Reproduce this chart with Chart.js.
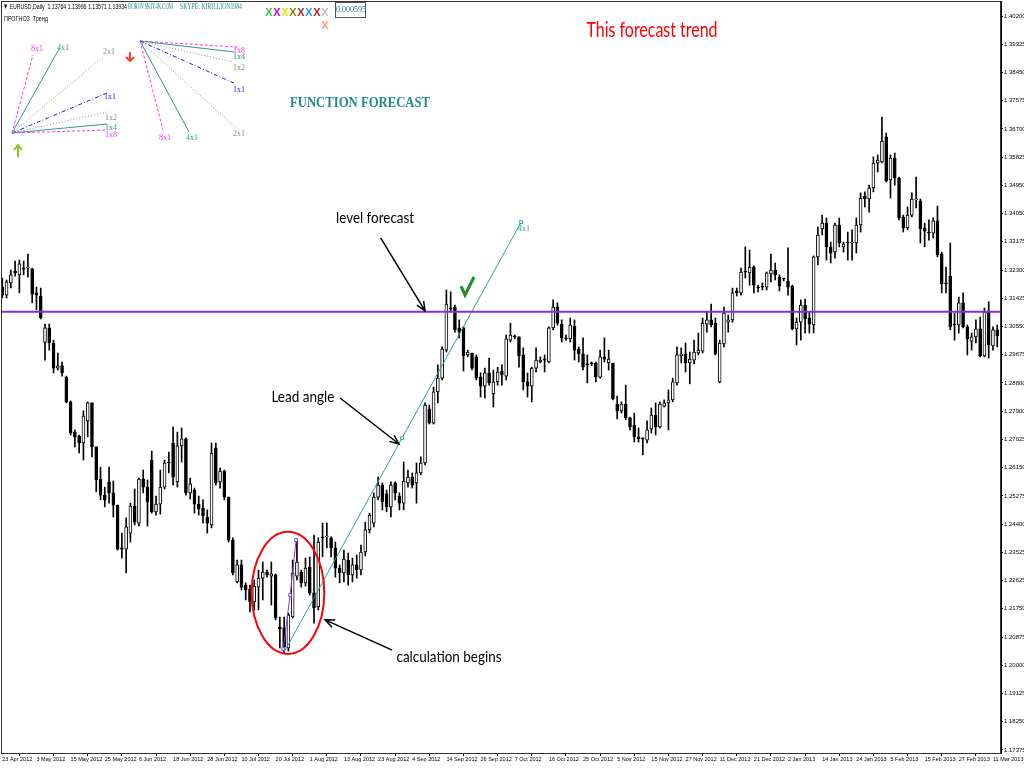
<!DOCTYPE html>
<html>
<head>
<meta charset="utf-8">
<script src="https://cdn.jsdelivr.net/npm/chart.js@4.4.1/dist/chart.umd.min.js"></script>
<style>
  html, body { margin: 0; padding: 0; background: #fff; }
  #wrap { width: 1024px; height: 768px; position: relative; }
</style>
</head>
<body>
<div id="wrap"><canvas id="grafico"></canvas></div>
<script>
// EURUSD Daily, 23 Apr 2012 - 13 Mar 2013
const openP = [1.3177,1.3152,1.3190,1.3227,1.3215,1.3236,1.3236,1.3233,1.3159,1.3149,
  1.3006,1.3050,1.3003,1.2925,1.2932,1.2897,1.2820,1.2726,1.2714,1.2692,
  1.2761,1.2817,1.2680,1.2580,1.2530,1.2571,1.2537,1.2499,1.2366,1.2362,
  1.2412,1.2496,1.2443,1.2580,1.2555,1.2639,1.2478,1.2502,1.2555,1.2633,
  1.2692,1.2571,1.2683,1.2705,1.2537,1.2546,1.2502,1.2490,1.2462,1.2437,
  1.2677,1.2571,1.2605,1.2524,1.2390,1.2260,1.2313,1.2250,1.2238,1.2198,
  1.2244,1.2272,1.2291,1.2278,1.2282,1.2120,1.2117,1.2055,1.2151,1.2278,
  1.2291,1.2257,1.2306,1.2226,1.2182,1.2400,1.2400,1.2397,1.2366,1.2303,
  1.2288,1.2328,1.2282,1.2313,1.2297,1.2353,1.2422,1.2443,1.2524,1.2561,
  1.2534,1.2493,1.2568,1.2527,1.2505,1.2568,1.2586,1.2568,1.2599,1.2630,
  1.2798,1.2754,1.2851,1.2894,1.2981,1.3112,1.3115,1.3050,1.3050,1.2966,
  1.2972,1.2960,1.2897,1.2869,1.2910,1.2845,1.2882,1.2916,1.2900,1.3012,
  1.3022,1.3022,1.2966,1.2882,1.2869,1.2925,1.2944,1.2950,1.2944,1.3050,
  1.3115,1.3062,1.3019,1.3016,1.3056,1.2984,1.2969,1.2935,1.2938,1.2941,
  1.2897,1.2960,1.2941,1.2941,1.2813,1.2792,1.2813,1.2770,1.2748,1.2711,
  1.2705,1.2701,1.2736,1.2779,1.2742,1.2807,1.2817,1.2826,1.2879,1.2963,
  1.2969,1.2941,1.2950,1.2972,1.2978,1.3062,1.3075,1.3065,1.2882,1.3000,
  1.3068,1.3075,1.3165,1.3159,1.3224,1.3221,1.3239,1.3177,1.3177,1.3177,
  1.3218,1.3230,1.3208,1.3202,1.3196,1.3180,1.3047,1.3068,1.3121,1.3081,
  1.3059,1.3271,1.3358,1.3376,1.3302,1.3286,1.3370,1.3302,1.3317,1.3314,
  1.3314,1.3370,1.3460,1.3451,1.3485,1.3563,1.3566,1.3644,1.3510,1.3578,
  1.3516,1.3395,1.3361,1.3401,1.3448,1.3445,1.3361,1.3348,1.3345,1.3383,
  1.3280,1.3190,1.3211,1.3059,1.3059,1.3128,1.3053,1.3009,1.3022,1.3047,
  1.2963,1.3100,1.2994,1.3044];
const highP = [1.3205,1.3199,1.3230,1.3258,1.3261,1.3258,1.3280,1.3236,1.3177,1.3174,
  1.3062,1.3062,1.3012,1.2972,1.2944,1.2900,1.2823,1.2733,1.2717,1.2792,
  1.2820,1.2817,1.2680,1.2617,1.2555,1.2617,1.2574,1.2499,1.2412,1.2459,
  1.2505,1.2549,1.2583,1.2608,1.2577,1.2667,1.2527,1.2608,1.2639,1.2664,
  1.2742,1.2726,1.2739,1.2708,1.2583,1.2552,1.2527,1.2515,1.2484,1.2692,
  1.2692,1.2614,1.2608,1.2524,1.2397,1.2328,1.2328,1.2257,1.2250,1.2266,
  1.2297,1.2322,1.2297,1.2322,1.2285,1.2151,1.2151,1.2163,1.2328,1.2390,
  1.2297,1.2334,1.2338,1.2406,1.2397,1.2443,1.2443,1.2400,1.2384,1.2313,
  1.2359,1.2350,1.2334,1.2344,1.2375,1.2446,1.2474,1.2537,1.2586,1.2568,
  1.2546,1.2571,1.2571,1.2537,1.2633,1.2608,1.2599,1.2630,1.2649,1.2817,
  1.2810,1.2866,1.2935,1.2991,1.3168,1.3162,1.3121,1.3075,1.3053,1.2981,
  1.2972,1.2966,1.2910,1.2925,1.2956,1.2919,1.2928,1.2935,1.3028,1.3065,
  1.3028,1.3022,1.2988,1.2910,1.2928,1.2988,1.2960,1.2966,1.3053,1.3137,
  1.3128,1.3075,1.3028,1.3081,1.3075,1.2991,1.3019,1.2966,1.2944,1.2944,
  1.2981,1.3019,1.2981,1.2941,1.2838,1.2820,1.2872,1.2773,1.2785,1.2739,
  1.2708,1.2761,1.2801,1.2817,1.2820,1.2826,1.2857,1.2894,1.2991,1.2988,
  1.3003,1.2975,1.3012,1.3034,1.3081,1.3100,1.3124,1.3081,1.3012,1.3115,
  1.3090,1.3174,1.3174,1.3236,1.3302,1.3292,1.3243,1.3183,1.3190,1.3224,
  1.3280,1.3252,1.3215,1.3205,1.3299,1.3183,1.3081,1.3137,1.3140,1.3100,
  1.3274,1.3364,1.3401,1.3392,1.3317,1.3376,1.3392,1.3317,1.3348,1.3355,
  1.3392,1.3470,1.3473,1.3494,1.3582,1.3588,1.3706,1.3656,1.3588,1.3594,
  1.3519,1.3401,1.3426,1.3470,1.3519,1.3451,1.3376,1.3386,1.3392,1.3429,
  1.3286,1.3239,1.3314,1.3096,1.3146,1.3159,1.3059,1.3034,1.3075,1.3084,
  1.3112,1.3131,1.3053,1.3059];
const lowP = [1.3143,1.3143,1.3174,1.3211,1.3159,1.3215,1.3208,1.3128,1.3106,1.3078,
  1.2950,1.2981,1.2910,1.2919,1.2900,1.2817,1.2717,1.2680,1.2661,1.2639,
  1.2711,1.2649,1.2540,1.2515,1.2493,1.2505,1.2462,1.2359,1.2334,1.2288,
  1.2384,1.2437,1.2434,1.2537,1.2434,1.2474,1.2468,1.2471,1.2549,1.2599,
  1.2561,1.2555,1.2633,1.2530,1.2518,1.2474,1.2468,1.2443,1.2412,1.2428,
  1.2561,1.2552,1.2515,1.2384,1.2282,1.2257,1.2235,1.2204,1.2167,1.2173,
  1.2173,1.2204,1.2275,1.2188,1.2142,1.2055,1.2039,1.2045,1.2148,1.2266,
  1.2244,1.2247,1.2219,1.2132,1.2173,1.2338,1.2366,1.2338,1.2275,1.2257,
  1.2260,1.2250,1.2260,1.2272,1.2282,1.2341,1.2412,1.2431,1.2515,1.2484,
  1.2478,1.2462,1.2515,1.2484,1.2484,1.2555,1.2552,1.2505,1.2593,1.2624,
  1.2751,1.2751,1.2817,1.2888,1.2975,1.3100,1.3037,1.3019,1.2916,1.2960,
  1.2919,1.2888,1.2835,1.2832,1.2872,1.2804,1.2872,1.2872,1.2888,1.3006,
  1.3016,1.2928,1.2857,1.2835,1.2820,1.2913,1.2941,1.2913,1.2941,1.3044,
  1.3059,1.3006,1.3012,1.3006,1.2950,1.2944,1.2919,1.2879,1.2932,1.2882,
  1.2894,1.2944,1.2919,1.2826,1.2767,1.2785,1.2764,1.2733,1.2695,1.2695,
  1.2655,1.2692,1.2723,1.2717,1.2739,1.2804,1.2733,1.2820,1.2872,1.2941,
  1.2913,1.2876,1.2938,1.2966,1.2972,1.3037,1.3053,1.2966,1.2879,1.2991,
  1.3037,1.3068,1.3149,1.3152,1.3205,1.3183,1.3159,1.3162,1.3168,1.3168,
  1.3193,1.3199,1.3165,1.3196,1.3152,1.3044,1.2997,1.3012,1.3034,1.3034,
  1.3034,1.3246,1.3339,1.3261,1.3252,1.3267,1.3302,1.3286,1.3261,1.3261,
  1.3283,1.3348,1.3426,1.3410,1.3473,1.3535,1.3563,1.3504,1.3454,1.3494,
  1.3386,1.3348,1.3355,1.3395,1.3423,1.3314,1.3302,1.3323,1.3330,1.3271,
  1.3159,1.3159,1.3044,1.3012,1.3034,1.3050,1.2966,1.2981,1.3003,1.2960,
  1.2960,1.2956,1.2981,1.2991];
const closeP = [1.3152,1.3193,1.3215,1.3221,1.3249,1.3233,1.3239,1.3155,1.3152,1.3081,
  1.3050,1.3003,1.2925,1.2932,1.2910,1.2820,1.2723,1.2711,1.2692,1.2776,
  1.2817,1.2680,1.2577,1.2530,1.2515,1.2537,1.2499,1.2362,1.2362,1.2431,
  1.2496,1.2446,1.2580,1.2555,1.2509,1.2478,1.2502,1.2555,1.2630,1.2630,
  1.2586,1.2683,1.2705,1.2537,1.2565,1.2502,1.2487,1.2465,1.2443,1.2661,
  1.2568,1.2605,1.2524,1.2390,1.2288,1.2313,1.2244,1.2235,1.2198,1.2247,
  1.2272,1.2291,1.2282,1.2285,1.2148,1.2114,1.2058,1.2157,1.2288,1.2322,
  1.2257,1.2303,1.2226,1.2179,1.2384,1.2397,1.2403,1.2366,1.2303,1.2288,
  1.2331,1.2282,1.2313,1.2297,1.2353,1.2422,1.2468,1.2524,1.2561,1.2509,
  1.2493,1.2561,1.2537,1.2505,1.2574,1.2586,1.2561,1.2599,1.2630,1.2810,
  1.2754,1.2851,1.2894,1.2984,1.3124,1.3109,1.3044,1.3037,1.2963,1.2975,
  1.2925,1.2894,1.2869,1.2910,1.2879,1.2882,1.2913,1.2904,1.3016,1.3028,
  1.3022,1.2963,1.2882,1.2869,1.2925,1.2950,1.2950,1.2950,1.3050,1.3115,
  1.3065,1.3019,1.3016,1.3059,1.2981,1.2969,1.2928,1.2935,1.2938,1.2897,
  1.2960,1.2953,1.2953,1.2829,1.2792,1.2813,1.2770,1.2742,1.2711,1.2705,
  1.2705,1.2733,1.2779,1.2742,1.2813,1.2817,1.2826,1.2882,1.2966,1.2969,
  1.2941,1.2953,1.2975,1.2981,1.3065,1.3075,1.3059,1.2969,1.3003,1.3096,
  1.3075,1.3159,1.3159,1.3224,1.3224,1.3239,1.3183,1.3174,1.3177,1.3221,
  1.3230,1.3215,1.3180,1.3202,1.3177,1.3047,1.3068,1.3121,1.3078,1.3062,
  1.3271,1.3339,1.3376,1.3302,1.3283,1.3370,1.3314,1.3311,1.3314,1.3317,
  1.3370,1.3454,1.3451,1.3485,1.3563,1.3572,1.3631,1.3507,1.3578,1.3516,
  1.3392,1.3361,1.3401,1.3451,1.3451,1.3358,1.3351,1.3345,1.3383,1.3277,
  1.3187,1.3187,1.3053,1.3059,1.3128,1.3053,1.3016,1.3022,1.3047,1.2963,
  1.3100,1.2997,1.3044,1.3025];

// one date label every 8 bars
const dateLabels = ["23 Apr 2012","3 May 2012","15 May 2012","25 May 2012","6 Jun 2012",
  "18 Jun 2012","28 Jun 2012","10 Jul 2012","20 Jul 2012","1 Aug 2012","13 Aug 2012",
  "23 Aug 2012","4 Sep 2012","14 Sep 2012","26 Sep 2012","7 Oct 2012","16 Oct 2012",
  "25 Oct 2012","5 Nov 2012","15 Nov 2012","27 Nov 2012","11 Dec 2012","21 Dec 2012",
  "2 Jan 2013","14 Jan 2013","24 Jan 2013","5 Feb 2013","15 Feb 2013","27 Feb 2013","11 Mar 2013"];
const priceTicks = ["1.40200","1.39325","1.38450","1.37575","1.36700","1.35825","1.34950",
  "1.34050","1.33175","1.32300","1.31425","1.30550","1.29675","1.28800","1.27900","1.27025",
  "1.26150","1.25275","1.24400","1.23525","1.22625","1.21750","1.20875","1.20000","1.19125",
  "1.18250","1.17375"];

// drawn objects (bar index, price)
const levelPrice = 1.3100;
const trendBars = [66, 93.6, 121.5];
const trendPrices = [1.2042, 1.2707, 1.3379];
const calcBars = [65.8, 67.4, 68.8];
const calcPrices = [1.2051, 1.2219, 1.2390];

const barsPerLabel = 8;
const yTop = parseFloat(priceTicks[0]);
const yStep = (yTop - parseFloat(priceTicks[priceTicks.length - 1])) / (priceTicks.length - 1);
const idx = openP.map((_, i) => i);

function flecha(ctx, x1, y1, x2, y2) {
  const ang = Math.atan2(y2 - y1, x2 - x1);
  ctx.beginPath();
  ctx.moveTo(x1, y1);
  ctx.lineTo(x2, y2);
  ctx.moveTo(x2 - 10 * Math.cos(ang - 0.4), y2 - 10 * Math.sin(ang - 0.4));
  ctx.lineTo(x2, y2);
  ctx.lineTo(x2 - 10 * Math.cos(ang + 0.4), y2 - 10 * Math.sin(ang + 0.4));
  ctx.stroke();
}

// text squeezed to a given width (the original uses narrow fonts)
function textoAncho(ctx, txt, x, y, ancho) {
  const w = ctx.measureText(txt).width;
  ctx.save();
  ctx.translate(x, y);
  ctx.scale(ancho / w, 1);
  ctx.fillText(txt, 0, 0);
  ctx.restore();
}

function abanico(ctx, ox, oy, rayos) {
  rayos.forEach(r => {
    ctx.strokeStyle = r.c;
    ctx.setLineDash(r.d);
    ctx.beginPath();
    ctx.moveTo(ox, oy);
    ctx.lineTo(r.x, r.y);
    ctx.stroke();
    ctx.setLineDash([]);
    ctx.fillStyle = r.c;
    ctx.fillText(r.t, r.lx, r.ly);
  });
}

const MAG = '#ff33ff', TEAL = '#2a9a8a', GRIS = '#8a8a8a', AZUL = '#1a1aff';
const punt = [1, 2], raya = [3, 2], rp = [4, 2, 1, 2];

const overlay = {
  id: 'overlay',
  afterDraw(chart) {
    const { ctx, chartArea: a } = chart;
    const x = chart.scales.x, y = chart.scales.y;
    const px = b => x.getPixelForValue(b), py = p => y.getPixelForValue(p);
    ctx.save();

    // frame
    ctx.strokeStyle = '#333';
    ctx.lineWidth = 1;
    ctx.strokeRect(a.left + 0.5, a.top + 0.5, a.right - a.left - 1, a.bottom - a.top);

    // red circle around the starting point
    ctx.strokeStyle = '#ff0000';
    ctx.lineWidth = 2;
    ctx.beginPath();
    ctx.ellipse(px(66.9), py(1.2226), px(66.9 + 8.5) - px(66.9), py(1.2226) - py(1.2226 + 0.0190), 0, 0, Math.PI * 2);
    ctx.stroke();

    // arrows
    ctx.strokeStyle = '#000';
    ctx.lineWidth = 1.5;
    flecha(ctx, px(88.6), py(1.3330), px(99.0), py(1.3103));
    flecha(ctx, px(79.1), py(1.2832), px(92.9), py(1.2689));
    flecha(ctx, px(91.3), py(1.2048), px(75.6), py(1.2142));

    // notes
    ctx.fillStyle = '#000';
    ctx.font = '15px Lato';
    ctx.textAlign = 'center';
    ctx.textBaseline = 'middle';
    textoAncho(ctx, 'level forecast', px(87.3), py(1.3392), 78);
    textoAncho(ctx, 'Lead angle', px(70.4), py(1.2835), 63);
    textoAncho(ctx, 'calculation begins', px(104.6), py(1.2027), 105);

    // check mark
    const cx = px(108.6), cy = py(1.3174);
    ctx.strokeStyle = '#1e8c1e';
    ctx.lineWidth = 3;
    ctx.beginPath();
    ctx.moveTo(cx - 5, cy - 2);
    ctx.lineTo(cx - 1, cy + 7);
    ctx.lineTo(cx + 8, cy - 11);
    ctx.stroke();

    // 4x1 label at the end of the trend line
    ctx.fillStyle = TEAL;
    ctx.font = '8px "Liberation Serif"';
    ctx.textAlign = 'left';
    ctx.fillText('4x1', px(trendBars[2]) - 3, py(trendPrices[2]) + 7);

    // titles
    ctx.fillStyle = '#ff0000';
    ctx.font = '21px Lato';
    ctx.textAlign = 'center';
    textoAncho(ctx, 'This forecast trend', 652, 30, 131);
    ctx.fillStyle = '#1f8a8a';
    ctx.font = 'bold 14px "Liberation Serif"';
    textoAncho(ctx, 'FUNCTION FORECAST', 360, 103, 140);

    // header
    ctx.textAlign = 'left';
    ctx.fillStyle = '#000';
    ctx.font = '8px "Liberation Sans"';
    textoAncho(ctx, '\u25BC EURUSD,Daily  1.13764 1.13996 1.13571 1.13934', 3, 7, 124);
    textoAncho(ctx, 'ПРОГНОЗ  Тренд', 4, 19, 44);
    ctx.fillStyle = '#1f8a8a';
    ctx.font = '8px "Liberation Serif"';
    textoAncho(ctx, 'BOROVSKIY4K.COM', 128, 7, 45);
    textoAncho(ctx, 'SKYPE: KIRILLION1984', 180, 7, 62);

    // coloured crosses and value box
    const xs = ['#33cc33', '#cc00cc', '#e6e600', '#808000', '#b22222', '#1e90ff', '#b22222', '#c0c0c0'];
    ctx.font = 'bold 11px "Liberation Sans"';
    ctx.textAlign = 'center';
    xs.forEach((c, i) => { ctx.fillStyle = c; ctx.fillText('X', 269 + i * 8, 13); });
    ctx.fillStyle = '#ff9a70';
    ctx.fillText('X', 325, 26);
    ctx.strokeStyle = '#555';
    ctx.lineWidth = 1;
    ctx.strokeRect(335.5, 2.5, 30, 15);
    ctx.fillStyle = '#1a6f8a';
    ctx.font = '8px "Liberation Serif"';
    ctx.fillText('0.000595', 351, 10);

    // gann fans
    ctx.lineWidth = 1;
    ctx.textAlign = 'left';
    ctx.font = '8px "Liberation Serif"';
    abanico(ctx, 12, 133, [
      { c: MAG, d: raya, x: 33, y: 55, t: '8x1', lx: 31, ly: 49 },
      { c: TEAL, d: [], x: 59, y: 49, t: '4x1', lx: 57, ly: 48 },
      { c: GRIS, d: punt, x: 104, y: 56, t: '2x1', lx: 103, ly: 52 },
      { c: AZUL, d: rp, x: 107, y: 93, t: '1x1', lx: 104, ly: 97 },
      { c: GRIS, d: punt, x: 107, y: 112, t: '1x2', lx: 105, ly: 118 },
      { c: TEAL, d: [], x: 107, y: 124, t: '1x4', lx: 105, ly: 128 },
      { c: MAG, d: raya, x: 107, y: 130, t: '1x8', lx: 105, ly: 135 }
    ]);
    abanico(ctx, 140, 41, [
      { c: MAG, d: raya, x: 237, y: 47, t: '1x8', lx: 233, ly: 51 },
      { c: TEAL, d: [], x: 234, y: 52, t: '1x4', lx: 233, ly: 57 },
      { c: GRIS, d: punt, x: 233, y: 62, t: '1x2', lx: 233, ly: 68 },
      { c: AZUL, d: rp, x: 236, y: 84, t: '1x1', lx: 233, ly: 90 },
      { c: GRIS, d: punt, x: 236, y: 128, t: '2x1', lx: 233, ly: 134 },
      { c: TEAL, d: [], x: 189, y: 132, t: '4x1', lx: 186, ly: 138 },
      { c: MAG, d: raya, x: 163, y: 130, t: '8x1', lx: 159, ly: 138 }
    ]);
    // up / down arrows
    ctx.strokeStyle = '#7acc22';
    ctx.lineWidth = 2;
    ctx.beginPath();
    ctx.moveTo(18, 157); ctx.lineTo(18, 146);
    ctx.moveTo(14, 150); ctx.lineTo(18, 145); ctx.lineTo(22, 150);
    ctx.stroke();
    ctx.strokeStyle = '#ff4020';
    ctx.beginPath();
    ctx.moveTo(130, 52); ctx.lineTo(130, 61);
    ctx.moveTo(126, 57); ctx.lineTo(130, 61); ctx.lineTo(134, 57);
    ctx.stroke();
    ctx.restore();
  }
};

new Chart(document.getElementById('grafico'), {
  type: 'bar',
  data: {
    datasets: [
      {
        type: 'line',
        data: [{ x: -1, y: levelPrice }, { x: 240, y: levelPrice }],
        borderColor: '#8a2be2',
        borderWidth: 2,
        pointRadius: 0,
        order: 0
      },
      {
        type: 'line',
        data: trendBars.map((b, i) => ({ x: b, y: trendPrices[i] })),
        borderColor: '#2aa3a3',
        borderWidth: 1,
        pointStyle: 'rect',
        pointRadius: [0, 2, 2],
        pointBackgroundColor: '#fff',
        pointBorderColor: '#2aa3a3',
        order: 0
      },
      {
        type: 'line',
        data: calcBars.map((b, i) => ({ x: b, y: calcPrices[i] })),
        borderColor: '#7b3fe4',
        borderWidth: 1,
        pointStyle: 'rect',
        pointRadius: 2,
        pointBackgroundColor: '#fff',
        pointBorderColor: '#7b3fe4',
        order: 0
      },
      {
        data: idx.map(i => ({ x: i, y: [openP[i], closeP[i]] })),
        backgroundColor: c => closeP[c.dataIndex] > openP[c.dataIndex] ? '#fff' : '#000',
        borderColor: '#000',
        borderWidth: 1,
        borderSkipped: false,
        barThickness: 3,
        minBarLength: 1,
        grouped: false,
        order: 1
      },
      {
        data: idx.map(i => ({ x: i, y: [lowP[i], highP[i]] })),
        backgroundColor: '#000',
        barThickness: 1,
        grouped: false,
        order: 2
      }
    ]
  },
  options: {
    responsive: true,
    maintainAspectRatio: false,
    animation: false,
    layout: { autoPadding: false, padding: { left: 1, top: 1, right: 0, bottom: 0 } },
    plugins: { legend: { display: false }, tooltip: { enabled: false } },
    scales: {
      x: {
        type: 'linear',
        offset: false,
        min: -0.304,
        max: 233.88,
        afterBuildTicks: s => { s.ticks = dateLabels.map((d, i) => ({ value: i * barsPerLabel })); },
        afterFit: s => { s.height = 15; s.paddingLeft = 0; s.paddingRight = 0; },
        grid: { drawOnChartArea: false, drawTicks: true, tickLength: 3, color: '#000' },
        border: { color: '#000' },
        ticks: {
          autoSkip: false,
          maxRotation: 0,
          align: 'start',
          padding: 0,
          color: '#000',
          font: { family: 'Liberation Sans', size: 5.5 },
          callback: (v, i) => dateLabels[i]
        }
      },
      y: {
        position: 'right',
        min: 1.1728,
        max: 1.40667,
        afterBuildTicks: s => { s.ticks = priceTicks.map((t, i) => ({ value: yTop - i * yStep })); },
        afterFit: s => { s.width = 23; s.paddingTop = 0; s.paddingBottom = 0; },
        grid: { drawOnChartArea: false, drawTicks: true, tickLength: 2, color: '#000' },
        border: { color: '#000' },
        ticks: {
          padding: 1,
          color: '#000',
          font: { family: 'Liberation Sans', size: 6 },
          callback: (v, i) => priceTicks[i]
        }
      }
    }
  },
  plugins: [overlay]
});
</script>
</body>
</html>
